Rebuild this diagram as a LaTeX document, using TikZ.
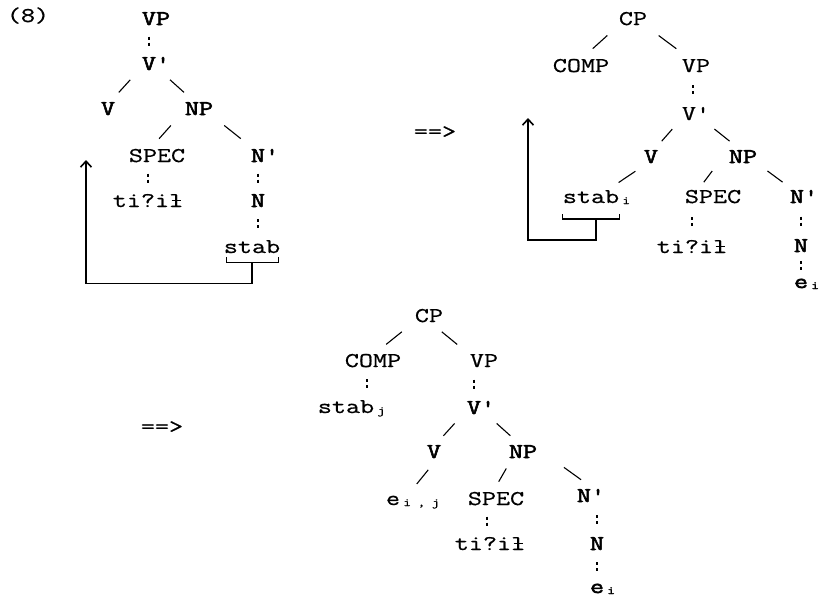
\documentclass[tikz,border=0pt]{standalone}
\usepackage{fontspec}
\setmonofont{Latin Modern Mono}[FakeStretch=1.3, FakeBold=0.8,
	BoldFont={Latin Modern Mono}, BoldFeatures={FakeBold=2.6}]
\usetikzlibrary{calc,arrows.meta}
\newcommand\tw{\fontsize{21}{24}\selectfont\ttfamily}
\newcommand\lbar{\ooalign{l\cr\hidewidth\rule[0.3em]{0.42em}{1.1pt}\hidewidth\cr}}
\newcommand\sub[1]{\makebox[0.68em]{\raisebox{-1pt}{\fontsize{11}{11}\selectfont#1}}}
\newcommand\branch[3][0]{\draw[branch] ($(#2)!.36!(#3)+(#1,0)$) -- ($(#2)!.64!(#3)+(#1,0)$);}
\newcommand\dotlink[3][0]{\draw[dotline] ($(#3.north)!.5!(#3.north |- #2.south)+(#1,-4.5)$) -- ++(0,9);}

\begin{document}
\begin{tikzpicture}[x=1pt, y=-1pt, >={Straight Barb[length=6pt,width=11pt]},
	lab/.style={anchor=base, inner sep=0pt, font=\tw},
	labb/.style={lab, font=\tw\bfseries},
	branch/.style={line width=1.1pt},
	dotline/.style={line width=1.3pt, dash pattern=on 3pt off 3pt},
	move/.style={line width=1.6pt}]
	\useasboundingbox (0,0) rectangle (820,597);
	% first tree
	\node[lab] (ex) at (28,22) {(8)};
	\node[labb] (vp1) at (156,25) {VP};
	\node[labb] (vbar1) at (149,70) {V\rlap{'}};
	\node[labb] (v1) at (108,115) {V};
	\node[labb] (np1) at (199,115) {NP};
	\node[lab] (spec1) at (157,162) {SPEC};
	\node[labb] (nbar1) at (258,162) {N\rlap{'}};
	\node[lab] (det1) at (148,207) {ti?i\lbar};
	\node[labb] (n1) at (258,207) {N};
	\node[lab] (stab1) at (252,253) {stab};
	\coordinate (top1) at (86,160);
	\dotlink{vp1}{vbar1}
	\branch[-4]{vbar1}{v1}
	\branch[3]{vbar1}{np1}
	\branch[-13]{np1}{spec1}
	\branch[4]{np1}{nbar1}
	\dotlink{spec1}{det1}
	\dotlink{nbar1}{n1}
	\dotlink[6]{n1}{stab1}
	\draw[move] ($(stab1.south west)+(3,4)$) -- ++(0,5) -| ($(stab1.south east)+(-2,4)$);
	\draw[move,->] ($(stab1.south)+(0,9)$) -- ++(0,21) -| (top1);
	\node[lab] (arr1) at (435,138) {==>};
	% second tree
	\node[lab] (cp2) at (633,25) {CP};
	\node[lab] (comp2) at (581,72) {COMP};
	\node[lab] (vp2) at (696,72) {VP};
	\node[lab] (vbar2) at (689,120) {V\rlap{'}};
	\node[labb] (v2) at (651,163) {V};
	\node[labb] (np2) at (743,163) {NP};
	\node[lab] (stab2) at (591,203) {stab\rlap{\sub{i}}};
	\node[lab] (spec2) at (713,203) {SPEC};
	\node[labb] (nbar2) at (797,203) {N\rlap{'}};
	\node[lab] (det2) at (692,253) {ti?i\lbar};
	\node[labb] (n2) at (801,252) {N};
	\node[labb] (e2) at (801,288) {e\rlap{\sub{i}}};
	\coordinate (top2) at (528,118);
	\branch[-7]{cp2}{comp2}
	\branch[3]{cp2}{vp2}
	\dotlink[4]{vp2}{vbar2}
	\branch[-3]{vbar2}{v2}
	\branch[6]{vbar2}{np2}
	\branch[6]{v2}{stab2}
	\branch[-20]{np2}{spec2}
	\branch[5]{np2}{nbar2}
	\dotlink{spec2}{det2}
	\dotlink{nbar2}{n2}
	\dotlink{n2}{e2}
	\draw[move] ($(stab2.south west)+(0,10)$) -- ++(0,5) -| ($(stab2.south east)+(0,10)$);
	\draw[move,->] ($(stab2.south)+(5,15)$) -- ++(0,21) -| (top2);
	% third tree
	\node[lab] (arr2) at (162,433) {==>};
	\node[lab] (cp3) at (429,322) {CP};
	\node[lab] (comp3) at (373,367) {COMP};
	\node[lab] (vp3) at (484,367) {VP};
	\node[lab] (stab3) at (346,413) {stab\rlap{\sub{j}}};
	\node[labb] (vbar3) at (474,414) {V\rlap{'}};
	\node[labb] (v3) at (434,458) {V};
	\node[labb] (np3) at (523,458) {NP};
	\node[lab] (e3) at (393,505) {e\rlap{\sub{i}\sub{,}\sub{j}}};
	\node[lab] (spec3) at (496,505) {SPEC};
	\node[labb] (nbar3) at (584,502) {N\rlap{'}};
	\node[lab] (det3) at (490,550) {ti?i\lbar};
	\node[labb] (n3) at (597,550) {N};
	\node[labb] (e4) at (597,593) {e\rlap{\sub{i}}};
	\branch[-7]{cp3}{comp3}
	\branch[-7]{cp3}{vp3}
	\dotlink[21]{comp3}{stab3}
	\dotlink{vp3}{vbar3}
	\branch[-5]{vbar3}{v3}
	\branch[5]{vbar3}{np3}
	\branch[9]{v3}{e3}
	\branch[-7]{np3}{spec3}
	\branch[19]{np3}{nbar3}
	\dotlink[-3]{spec3}{det3}
	\dotlink{nbar3}{n3}
	\dotlink{n3}{e4}
\end{tikzpicture}
\end{document}
